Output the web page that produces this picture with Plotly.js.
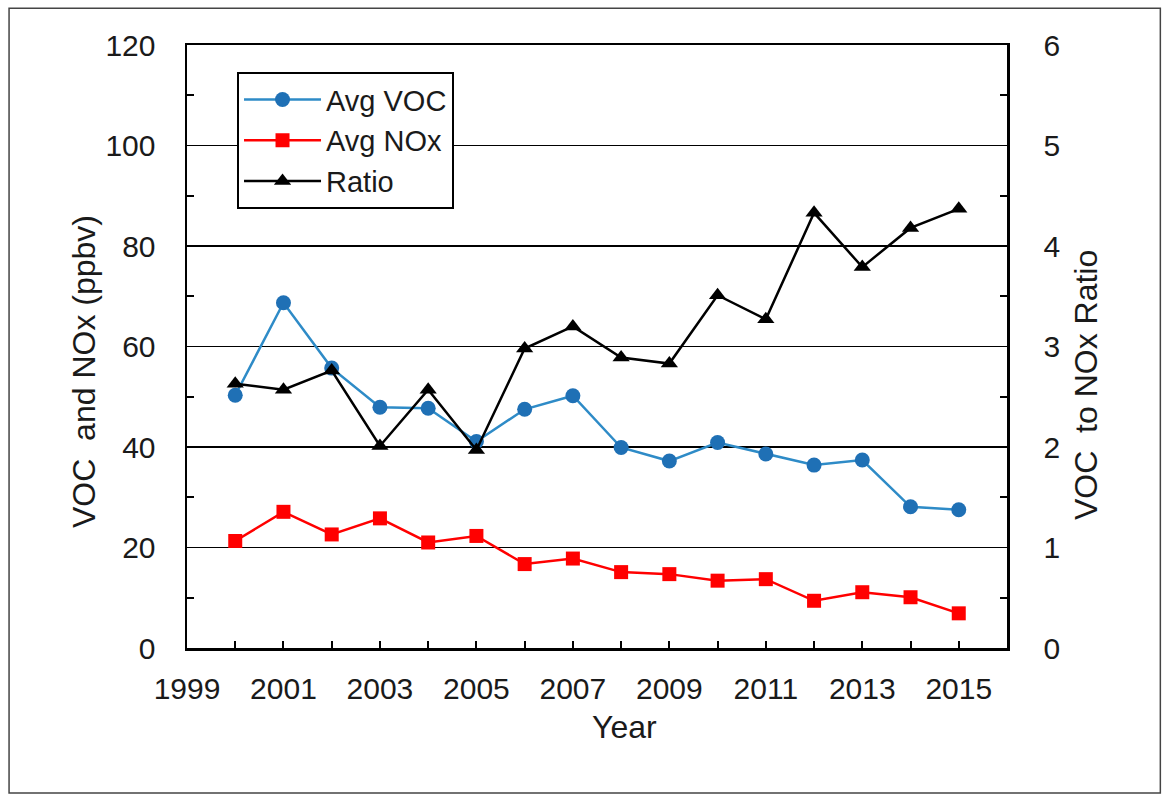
<!DOCTYPE html>
<html><head><meta charset="utf-8">
<script src="https://cdn.plot.ly/plotly-3.0.1.min.js"></script>
<style>html,body{margin:0;padding:0;background:#fff}#chart{width:1164px;height:796px}</style>
</head><body><div id="chart"></div>
<script>
const years = [2000,2001,2002,2003,2004,2005,2006,2007,2008,2009,2010,2011,2012,2013,2014,2015];
const avgVOC = [50.3,68.7,55.7,47.9,47.7,41.1,47.5,50.2,39.9,37.2,40.9,38.6,36.4,37.4,28.1,27.5];
const avgNOx = [21.3,27.1,22.6,25.8,21.0,22.3,16.7,17.8,15.1,14.7,13.4,13.7,9.4,11.1,10.1,6.9];
const ratio = [2.63,2.57,2.76,2.01,2.57,1.97,2.98,3.20,2.89,2.83,3.51,3.27,4.33,3.79,4.18,4.37];
const xTickVals = [1999,2001,2003,2005,2007,2009,2011,2013,2015];
const leftTitle = 'VOC\u00a0\u00a0and NOx (ppbv)';
const rightTitle = 'VOC\u00a0\u00a0to NOx Ratio';
const xTitle = 'Year';

const F = 'Arial, "Liberation Sans", sans-serif';
const TC = '#1a1a1a';
const traces = [
  {x: years, y: avgVOC, name: 'Avg VOC', mode: 'lines+markers', yaxis: 'y',
   line: {color: '#2E8BC7', width: 2.5}, marker: {symbol: 'circle', size: 15, color: '#1F70B5'}},
  {x: years, y: avgNOx, name: 'Avg NOx', mode: 'lines+markers', yaxis: 'y',
   line: {color: '#FF0000', width: 2.5}, marker: {symbol: 'square', size: 14, color: '#FF0000'}},
  {x: years, y: ratio, name: 'Ratio', mode: 'lines+markers', yaxis: 'y2',
   line: {color: '#000000', width: 2.5}, marker: {symbol: 'triangle-up', size: 15, color: '#000000'}}
];
const layout = {
  width: 1164, height: 796,
  margin: {l: 187, r: 157, t: 45, b: 148},
  paper_bgcolor: '#fff', plot_bgcolor: '#fff',
  font: {family: F, size: 30, color: TC},
  showlegend: true,
  legend: {x: 0.061, y: 0.955, xanchor: 'left', yanchor: 'top', bordercolor: '#000', borderwidth: 2,
           bgcolor: '#fff', font: {family: F, size: 29, color: TC}, tracegroupgap: 0, itemwidth: 77},
  xaxis: {range: [1999, 2016], tickvals: xTickVals, ticks: 'inside', ticklen: 7, tickwidth: 2, tickcolor: '#000',
          minor: {dtick: 1, tick0: 1999, ticks: 'inside', ticklen: 7, tickwidth: 2, tickcolor: '#000', showgrid: false},
          showline: true, linecolor: '#000', linewidth: 2.5, mirror: true, showgrid: false, zeroline: false,
          ticklabelstandoff: 12, tickfont: {family: F, size: 30, color: TC}},
  yaxis: {range: [0, 120], dtick: 20, ticks: 'inside', ticklen: 0, showline: true, linecolor: '#000', linewidth: 2.5,
          minor: {dtick: 10, ticks: 'inside', ticklen: 7, tickwidth: 2, tickcolor: '#000', showgrid: false},
          showgrid: true, gridcolor: '#000', gridwidth: 1.5, zeroline: false,
          ticklabelstandoff: 23, tickfont: {family: F, size: 30, color: TC}},
  yaxis2: {range: [0, 6], dtick: 1, overlaying: 'y', side: 'right', ticks: 'inside', ticklen: 0,
           minor: {dtick: 0.5, ticks: 'inside', ticklen: 7, tickwidth: 2, tickcolor: '#000', showgrid: false},
           showline: true, linecolor: '#000', linewidth: 2.5, showgrid: false, zeroline: false,
           ticklabelstandoff: 28, tickfont: {family: F, size: 30, color: TC}},
  annotations: [
    {text: leftTitle, xref: 'paper', yref: 'paper', x: -0.1256, y: 0.4577, xanchor: 'center', yanchor: 'middle',
     textangle: -90, showarrow: false, font: {family: F, size: 32, color: TC}},
    {text: rightTitle, xref: 'paper', yref: 'paper', x: 1.0963, y: 0.436, xanchor: 'center', yanchor: 'middle',
     textangle: -90, showarrow: false, font: {family: F, size: 32, color: TC}},
    {text: xTitle, xref: 'paper', yref: 'paper', x: 0.534, y: -0.131, xanchor: 'center', yanchor: 'middle',
     showarrow: false, font: {family: F, size: 32, color: TC}}
  ],
  shapes: [{type: 'rect', xref: 'paper', yref: 'paper', x0: -0.217, x1: 1.187, y0: -0.2405, y1: 1.061,
            line: {color: '#444', width: 1.5}, fillcolor: 'rgba(0,0,0,0)', layer: 'below'}]
};
Plotly.newPlot('chart', traces, layout, {displayModeBar: false, staticPlot: true});
</script></body></html>
